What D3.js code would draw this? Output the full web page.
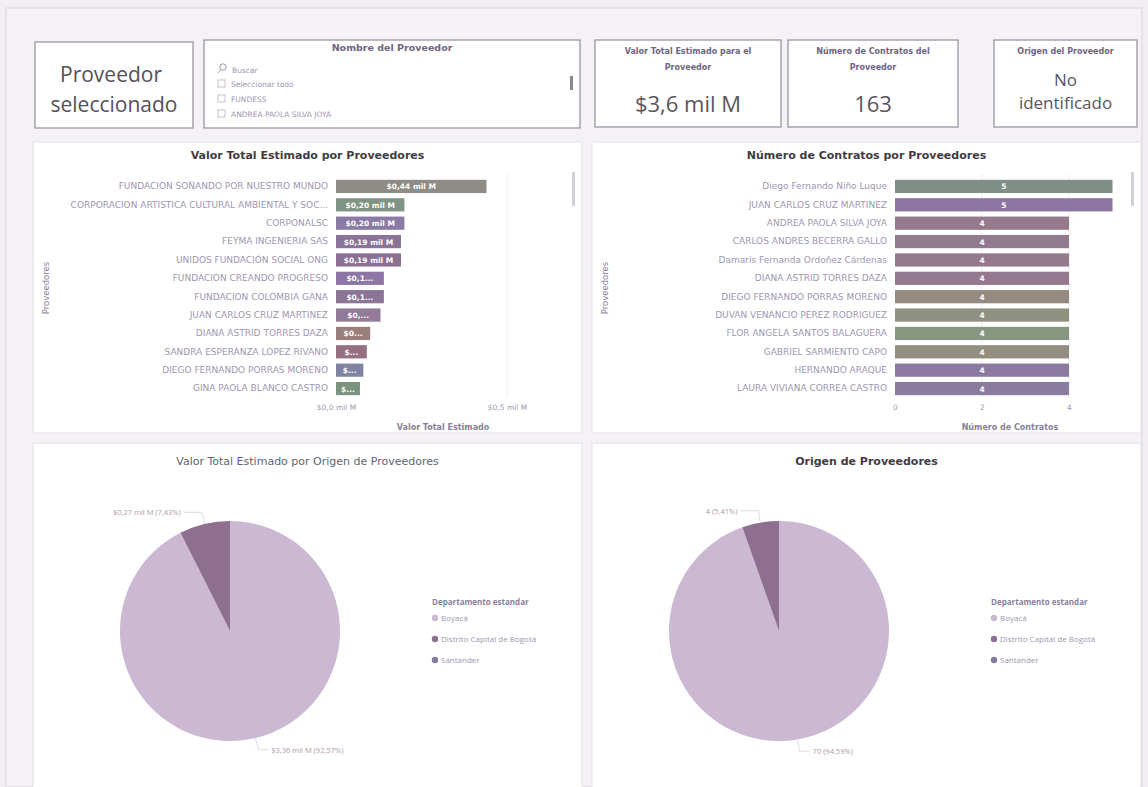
<!DOCTYPE html>
<html>
<head>
<meta charset="utf-8">
<script src="https://cdn.jsdelivr.net/npm/d3@7"></script>
<style>
  body { margin: 0; background: #f1eff2; }
  svg { display: block; font-family: "Open Sans", "DejaVu Sans", sans-serif; }
</style>
</head>
<body>
<script>
// ---- data ----
const provValor = ["FUNDACION SOÑANDO POR NUESTRO MUNDO", "CORPORACION ARTISTICA CULTURAL AMBIENTAL Y SOC...",
  "CORPONALSC", "FEYMA INGENIERIA SAS", "UNIDOS FUNDACIÓN SOCIAL ONG", "FUNDACION CREANDO PROGRESO",
  "FUNDACION COLOMBIA GANA", "JUAN CARLOS CRUZ MARTINEZ", "DIANA ASTRID TORRES DAZA",
  "SANDRA ESPERANZA LOPEZ RIVANO", "DIEGO FERNANDO PORRAS MORENO", "GINA PAOLA BLANCO CASTRO"]
const valorEstimado = [0.44, 0.20, 0.20, 0.19, 0.19, 0.14, 0.14, 0.13, 0.10, 0.09, 0.08, 0.07]
const valorTicks = [0, 0.5]

const provContratos = ["Diego Fernando Niño Luque", "JUAN CARLOS CRUZ MARTINEZ", "ANDREA PAOLA SILVA JOYA",
  "CARLOS ANDRES BECERRA GALLO", "Damaris Fernanda Ordoñez Cárdenas", "DIANA ASTRID TORRES DAZA",
  "DIEGO FERNANDO PORRAS MORENO", "DUVAN VENANCIO PEREZ RODRIGUEZ", "FLOR ANGELA SANTOS BALAGUERA",
  "GABRIEL SARMIENTO CAPO", "HERNANDO ARAQUE", "LAURA VIVIANA CORREA CASTRO"]
const numContratos = [5, 5, 4, 4, 4, 4, 4, 4, 4, 4, 4, 4]
const contratosTicks = [0, 2, 4]

const departamentos = ["Boyacá", "Distrito Capital de Bogotá", "Santander"]
const valorOrigen = [3.362, 0.270, 0]
const contratosOrigen = [70, 4, 0]

const slicerItems = ["Seleccionar todo", "FUNDESS", "ANDREA PAOLA SILVA JOYA"]

const W = 1148, H = 787
const fmtMil = v => "$" + d3.format(".2f")(v).replace(".", ",") + " mil M"
const fmtPct = p => d3.format(".2f")(p * 100).replace(".", ",") + "%"

const svg = d3.select("body").append("svg").attr("width", W).attr("height", H)
svg.append("rect").attr("width", W).attr("height", H).attr("fill", "#f1eff2")
svg.append("rect").attr("x", 6).attr("y", 8).attr("width", W - 12).attr("height", H - 8)
  .attr("fill", "#f4f2f5").attr("stroke", "#d8d3dc")

const titleCol = "#3f3c45", labelCol = "#a096b0", cardTitleCol = "#6f6480"
const DV = "DejaVu Sans"

// ---- top cards ----
function card(x, y, w, h) {
  return svg.append("g").attr("transform", `translate(${x},${y})`)
    .call(g => g.append("rect").attr("width", w).attr("height", h)
      .attr("fill", "#fff").attr("stroke", "#9b95a3").attr("stroke-width", 1.3))
}
let c1 = card(35, 42, 158, 86)
c1.append("text").attr("x", 76).attr("y", 40).attr("text-anchor", "middle")
  .attr("font-size", 21).attr("fill", "#55505a").text("Proveedor")
c1.append("text").attr("x", 79).attr("y", 70).attr("text-anchor", "middle")
  .attr("font-size", 21).attr("fill", "#55505a").text("seleccionado")

let sl = card(204, 40, 376, 88)
sl.append("text").attr("x", 188).attr("y", 11).attr("text-anchor", "middle").attr("font-family", DV)
  .attr("font-size", 9.5).attr("font-weight", "bold").attr("fill", cardTitleCol).text("Nombre del Proveedor")
sl.append("circle").attr("cx", 19).attr("cy", 27).attr("r", 3.2).attr("fill", "none").attr("stroke", labelCol)
sl.append("line").attr("x1", 17).attr("y1", 29.5).attr("x2", 14).attr("y2", 33).attr("stroke", labelCol)
sl.append("text").attr("x", 28).attr("y", 33).attr("font-family", DV).attr("font-size", 7.5).attr("fill", labelCol).text("Buscar")
sl.selectAll(".it").data(slicerItems).enter().append("g")
  .attr("transform", (d, i) => `translate(14,${40 + i * 15})`)
  .each(function (d) {
    let g = d3.select(this)
    g.append("rect").attr("width", 7).attr("height", 7).attr("fill", "none").attr("stroke", "#c8c0d0")
    g.append("text").attr("x", 13).attr("y", 7).attr("font-family", DV).attr("font-size", 7.5).attr("fill", labelCol).text(d)
  })
sl.append("rect").attr("x", 366).attr("y", 36).attr("width", 3).attr("height", 14).attr("fill", "#8c8692")

function kpi(x, w, t1, t2, vals, size) {
  let g = card(x, 40, w, 87)
  g.append("text").attr("x", w / 2).attr("y", 14).attr("text-anchor", "middle").attr("font-family", DV)
    .attr("font-size", 8).attr("font-weight", "bold").attr("fill", cardTitleCol).text(t1)
  if (t2) g.append("text").attr("x", w / 2).attr("y", 30).attr("text-anchor", "middle").attr("font-family", DV)
    .attr("font-size", 8).attr("font-weight", "bold").attr("fill", cardTitleCol).text(t2)
  vals.forEach((v, i) => g.append("text").attr("x", w / 2).attr("y", vals.length > 1 ? 46 + i * 23 : 72)
    .attr("text-anchor", "middle").attr("font-size", size).attr("fill", "#5a555f").text(v))
}
kpi(595, 186, "Valor Total Estimado para el", "Proveedor", ["$3,6 mil M"], 22)
kpi(788, 170, "Número de Contratos del", "Proveedor", ["163"], 22)
kpi(994, 143, "Origen del Proveedor", null, ["No", "identificado"], 17)

// ---- panels ----
function panel(x, y, w, h, title, bold, col, ty) {
  let g = svg.append("g").attr("transform", `translate(${x},${y})`)
  g.append("rect").attr("width", w).attr("height", h).attr("fill", "#fff").attr("stroke", "#e4e0e8")
  g.append("text").attr("x", w / 2).attr("y", ty).attr("text-anchor", "middle")
    .attr("font-family", DV).attr("font-size", 11).attr("font-weight", bold ? "bold" : "normal")
    .attr("fill", col).text(title)
  return g
}

// ---- bar charts ----
function barChart(x0, title, names, vals, ticks, maxV, barCol, axisTitle, axisX, tickFmt, labelFmt) {
  let g = panel(x0, 142, 549, 291, title, true, titleCol, 17)
  let xScale = d3.scaleLinear().domain([0, maxV]).range([303, x0 === 33 ? 474 : 477])
  let yScale = d3.scaleBand().domain(names).range([36, 255]).paddingInner(0.28).paddingOuter(0.1)
  g.selectAll(".grid").data(ticks.slice(1)).enter().append("line")
    .attr("x1", d => xScale(d)).attr("x2", d => xScale(d)).attr("y1", 32).attr("y2", 256)
    .attr("stroke", "#eeeaf0")
  g.selectAll(".bar").data(vals).enter().append("rect")
    .attr("x", xScale(0)).attr("y", (d, i) => yScale(names[i]))
    .attr("width", d => xScale(d) - xScale(0)).attr("height", yScale.bandwidth())
    .attr("fill", (d, i) => barCol[i % barCol.length])
  g.selectAll(".bl").data(vals).enter().append("text")
    .attr("x", d => (xScale(d) + xScale(0)) / 2).attr("y", (d, i) => yScale(names[i]) + yScale.bandwidth() / 2 + 3)
    .attr("text-anchor", "middle").attr("font-family", DV).attr("font-size", 7.5).attr("font-weight", "bold").attr("fill", "#fff")
    .text(d => {
      let full = labelFmt(d), room = xScale(d) - xScale(0) - 6
      if (full.length * 5 <= room) return full
      let n = Math.max(1, Math.floor(room / 5.5) - 3)
      return full.slice(0, n) + "..."
    })
  let yAxis = d3.axisLeft(yScale).tickSize(0).tickPadding(8)
  let ya = g.append("g").attr("transform", `translate(${xScale(0)},0)`).call(yAxis)
  ya.select(".domain").remove()
  ya.selectAll("text").attr("font-size", 9).attr("fill", labelCol).attr("font-family", DV)
  let xAxis = d3.axisBottom(xScale).tickValues(ticks).tickSize(0).tickFormat(tickFmt)
  let xa = g.append("g").attr("transform", `translate(0,260)`).call(xAxis)
  xa.select(".domain").remove()
  xa.selectAll("text").attr("font-size", 7.5).attr("fill", labelCol).attr("font-family", DV)
  g.append("text").attr("x", axisX).attr("y", 288).attr("text-anchor", "middle").attr("font-family", DV)
    .attr("font-size", 8).attr("font-weight", "bold").attr("fill", "#8a7f98").text(axisTitle)
  g.append("text").attr("transform", "translate(16,146) rotate(-90)").attr("text-anchor", "middle")
    .attr("font-family", DV).attr("font-size", 8.5).attr("fill", "#8a7f98").text("Proveedores")
  g.append("rect").attr("x", 539).attr("y", 30).attr("width", 3).attr("height", 34).attr("fill", "#d4cfd9")
  return g
}
barChart(33, "Valor Total Estimado por Proveedores", provValor, valorEstimado, valorTicks, 0.5,
  ["#8f8c86", "#7f9484", "#8a7aa6", "#8a7599", "#8b7094", "#8d76a6", "#8a7596", "#927a98",
   "#9a7e7c", "#967080", "#7f84a2", "#7b947f"],
  "Valor Total Estimado", 410, d => "$" + d3.format(".1f")(d).replace(".", ",") + " mil M", fmtMil)
barChart(592, "Número de Contratos por Proveedores", provContratos, numContratos, contratosTicks, 4,
  ["#808e88", "#8a76a0", "#957a8c", "#927a8e", "#957a8c", "#947890", "#958a80", "#8e9080",
   "#86967f", "#948e80", "#8b7aa0", "#8a7c9e"],
  "Número de Contratos", 418, d => d, d => String(d))

// ---- pies ----
function pieChart(x0, title, vals, labelFmt, cx, bold, tcol) {
  let g = panel(x0, 443, 549, 360, title, bold, tcol, 22)
  let cy = 188, r = 110
  let total = d3.sum(vals)
  let arcs = d3.pie().sort(null)(vals)
  let cols = ["#cbb8d2", "#8e6f90", "#7f7c9c"]
  let arc = d3.arc().innerRadius(0).outerRadius(r)
  g.selectAll(".sl").data(arcs.filter(a => a.value > 0)).enter().append("path")
    .attr("transform", `translate(${cx},${cy})`).attr("d", arc)
    .attr("fill", d => cols[d.index])
  arcs.filter(a => a.value > 0).forEach(a => {
    let mid = (a.startAngle + a.endAngle) / 2
    let p1 = [cx + Math.sin(mid) * r, cy - Math.cos(mid) * r]
    let p2 = [cx + Math.sin(mid) * (r + 12), cy - Math.cos(mid) * (r + 12)]
    let right = Math.sin(mid) > 0
    let p3 = [p2[0] + (right ? 10 : -18), p2[1]]
    g.append("polyline").attr("points", [p1, p2, p3].map(p => p.join(",")).join(" "))
      .attr("fill", "none").attr("stroke", "#d6cfdc").attr("stroke-width", 0.8)
    g.append("text").attr("x", p3[0] + (right ? 3 : -3)).attr("y", p3[1] + 3)
      .attr("text-anchor", right ? "start" : "end").attr("font-size", 7.5).attr("fill", "#b09aac")
      .text(labelFmt(a.value) + " (" + fmtPct(a.value / total) + ")")
  })
  let lg = g.append("g").attr("transform", "translate(399,162)")
  lg.append("text").attr("font-size", 8).attr("font-weight", "bold").attr("fill", "#8a7f9e").text("Departamento estandar")
  departamentos.forEach((d, i) => {
    lg.append("circle").attr("cx", 3).attr("cy", 13 + i * 21).attr("r", 3.2).attr("fill", cols[i])
    lg.append("text").attr("x", 9).attr("y", 16 + i * 21).attr("font-size", 8).attr("fill", labelCol).text(d)
  })
}
pieChart(33, "Valor Total Estimado por Origen de Proveedores", valorOrigen, fmtMil, 197, false, "#5b6670")
pieChart(592, "Origen de Proveedores", contratosOrigen, v => String(v), 187, true, titleCol)
</script>
</body>
</html>
